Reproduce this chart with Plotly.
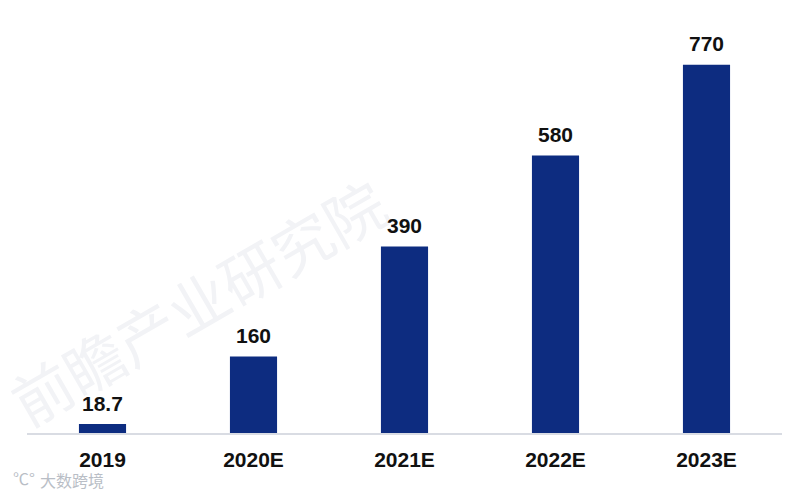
import plotly.graph_objects as go

years = ["2019", "2020E", "2021E", "2022E", "2023E"]
values = [18.7, 160, 390, 580, 770]
value_labels = ["18.7", "160", "390", "580", "770"]

BAR_COLOR = "#0D2C80"
FONT = "Liberation Sans"

fig = go.Figure()
fig.add_trace(go.Bar(
    x=years,
    y=values,
    marker={"color": BAR_COLOR, "line": {"width": 0}},
))

# the page has an 8px body margin, so margins are 8 less on top/left
fig.update_layout(
    width=800,
    height=495,
    autosize=False,
    showlegend=False,
    paper_bgcolor="white",
    plot_bgcolor="rgba(0,0,0,0)",
    margin={"l": 19, "r": 26, "t": 4, "b": 70},
    bargap=0.688,
    font={"family": FONT, "size": 21, "color": "#111111"},
)
fig.update_xaxes(
    type="category",
    range=[-0.5, len(years) - 0.5],
    showline=True,
    linecolor="#D9DCE3",
    linewidth=1.5,
    ticks="",
    ticklabelstandoff=7,
    tickfont={"family": FONT, "size": 21, "color": "#111111", "weight": "bold"},
)
fig.update_yaxes(range=[0, 880], visible=False)

# faint watermark
fig.add_annotation(
    text="前瞻产业研究院", xref="paper", yref="paper", x=0.225, y=0.315,
    xanchor="center", yanchor="middle",
    showarrow=False, textangle=-30,
    font={"family": "Noto Sans CJK SC", "size": 60, "color": "#F2F3F6"},
)

# value labels sit higher above the bars than textposition="outside" allows
# x is the category index: the string "2019" would be read as index 2019
for i, (value, label) in enumerate(zip(values, value_labels)):
    fig.add_annotation(
        x=i, y=value, text=label, showarrow=False,
        yanchor="middle", yshift=21,
        font={"family": FONT, "size": 21, "color": "#111111", "weight": "bold"},
    )

fig.add_annotation(
    text="大数跨境", xref="paper", yref="paper", x=0.06, y=-0.112,
    xanchor="center", yanchor="middle", showarrow=False,
    font={"family": "Noto Sans CJK SC", "size": 16, "color": "#B9BEC6"},
)
fig.add_annotation(
    text="℃°", xref="paper", yref="paper", x=-0.004, y=-0.108,
    xanchor="center", yanchor="middle", showarrow=False,
    font={"family": "Noto Sans CJK SC", "size": 16, "color": "#B9BEC6"},
)

fig.write_html("out.html")
